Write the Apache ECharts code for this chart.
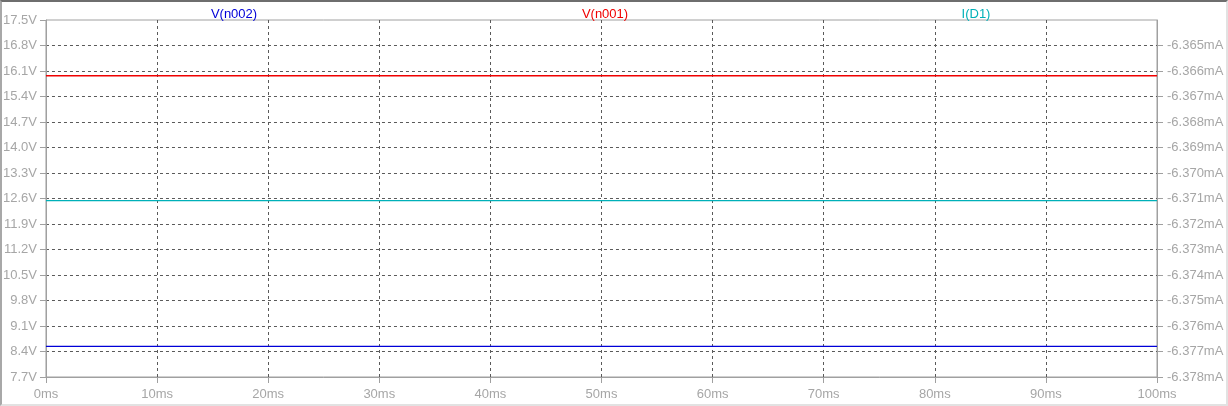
<!DOCTYPE html>
<html>
<head>
<meta charset="utf-8">
<script src="https://cdn.jsdelivr.net/npm/echarts@6/dist/echarts.min.js"></script>
<style>
html,body{margin:0;padding:0;background:#fff;}
#frame{position:absolute;left:0;top:0;width:1224px;height:402px;border-top:2px solid #6e6e6e;border-left:2px solid #a8a8a8;border-right:2px solid #e2e2e2;border-bottom:2px solid #e2e2e2;box-sizing:content-box;}
#chart{position:absolute;left:0;top:0;width:1228px;height:406px;}
</style>
</head>
<body>
<div id="frame"></div>
<div id="chart"></div>
<script>
// Data
const timeMs = [0, 100];
const vN002 = [8.54, 8.54];        // V
const vN001 = [15.97, 15.97];      // V
const iD1 = [-6.37108, -6.37108];  // mA
const traceNames = ['V(n002)', 'V(n001)', 'I(D1)'];
const traceColors = ['#0000d8', '#f00000', '#00b0b8'];
const rightTicks = [-6.378, -6.377, -6.376, -6.375, -6.374, -6.373, -6.372, -6.371, -6.370, -6.369, -6.368, -6.367, -6.366, -6.365];

const labelColor = '#a6a6a6';
const axisColor = '#a0a0a0';
const gridColor = '#5a5a5a';
const font = '"Liberation Sans", Arial, sans-serif';

const chart = echarts.init(document.getElementById('chart'), null, {renderer: 'canvas'});

function pairs(xs, ys) { return xs.map((x, i) => [x, ys[i]]); }

const option = {
  animation: false,
  backgroundColor: 'transparent',
  grid: {left: 44, right: 71, top: 20, bottom: 29, show: true, borderColor: axisColor, borderWidth: 1},
  title: [
    {text: traceNames[0], left: 229, top: 3, textAlign: 'center', textStyle: {color: traceColors[0], fontSize: 13, fontWeight: 'normal', fontFamily: font}},
    {text: traceNames[1], left: 600, top: 3, textAlign: 'center', textStyle: {color: traceColors[1], fontSize: 13, fontWeight: 'normal', fontFamily: font}},
    {text: traceNames[2], left: 971, top: 3, textAlign: 'center', textStyle: {color: traceColors[2], fontSize: 13, fontWeight: 'normal', fontFamily: font}}
  ],
  xAxis: {
    type: 'value', min: 0, max: 100, interval: 10,
    axisLine: {show: true, lineStyle: {color: axisColor}},
    axisTick: {show: true, length: 6, lineStyle: {color: axisColor}},
    axisLabel: {color: labelColor, fontSize: 13, fontFamily: font, margin: 11, formatter: v => Math.round(v) + 'ms'},
    splitLine: {show: true, showMinLine: false, showMaxLine: false, lineStyle: {color: gridColor, type: [3, 3], width: 1}}
  },
  yAxis: [
    {
      type: 'value', position: 'left', min: 7.7, max: 17.5, interval: 0.7,
      axisLine: {show: true, lineStyle: {color: axisColor}},
      axisTick: {show: true, length: 6, lineStyle: {color: axisColor}},
      axisLabel: {color: labelColor, fontSize: 13, fontFamily: font, margin: 9, formatter: v => v.toFixed(1) + 'V'},
      splitLine: {show: true, showMinLine: false, showMaxLine: false, lineStyle: {color: gridColor, type: [3, 3], width: 1}}
    },
    {
      type: 'value', position: 'right', min: -6.378, max: -6.364, interval: 0.001,
      axisLine: {show: true, lineStyle: {color: axisColor}},
      axisTick: {show: true, length: 6, customValues: rightTicks, lineStyle: {color: axisColor}},
      axisLabel: {color: labelColor, fontSize: 13, fontFamily: font, margin: 10, customValues: rightTicks,
        formatter: v => v.toFixed(3) + 'mA'},
      splitLine: {show: false}
    }
  ],
  series: [
    {name: traceNames[0], type: 'line', yAxisIndex: 0, data: pairs(timeMs, vN002), showSymbol: false, lineStyle: {color: traceColors[0], width: 1.3}, itemStyle: {color: traceColors[0]}},
    {name: traceNames[1], type: 'line', yAxisIndex: 0, data: pairs(timeMs, vN001), showSymbol: false, lineStyle: {color: traceColors[1], width: 1.3}, itemStyle: {color: traceColors[1]}},
    {name: traceNames[2], type: 'line', yAxisIndex: 1, data: pairs(timeMs, iD1), showSymbol: false, lineStyle: {color: traceColors[2], width: 1.3}, itemStyle: {color: traceColors[2]}}
  ]
};
chart.setOption(option);
</script>
</body>
</html>
